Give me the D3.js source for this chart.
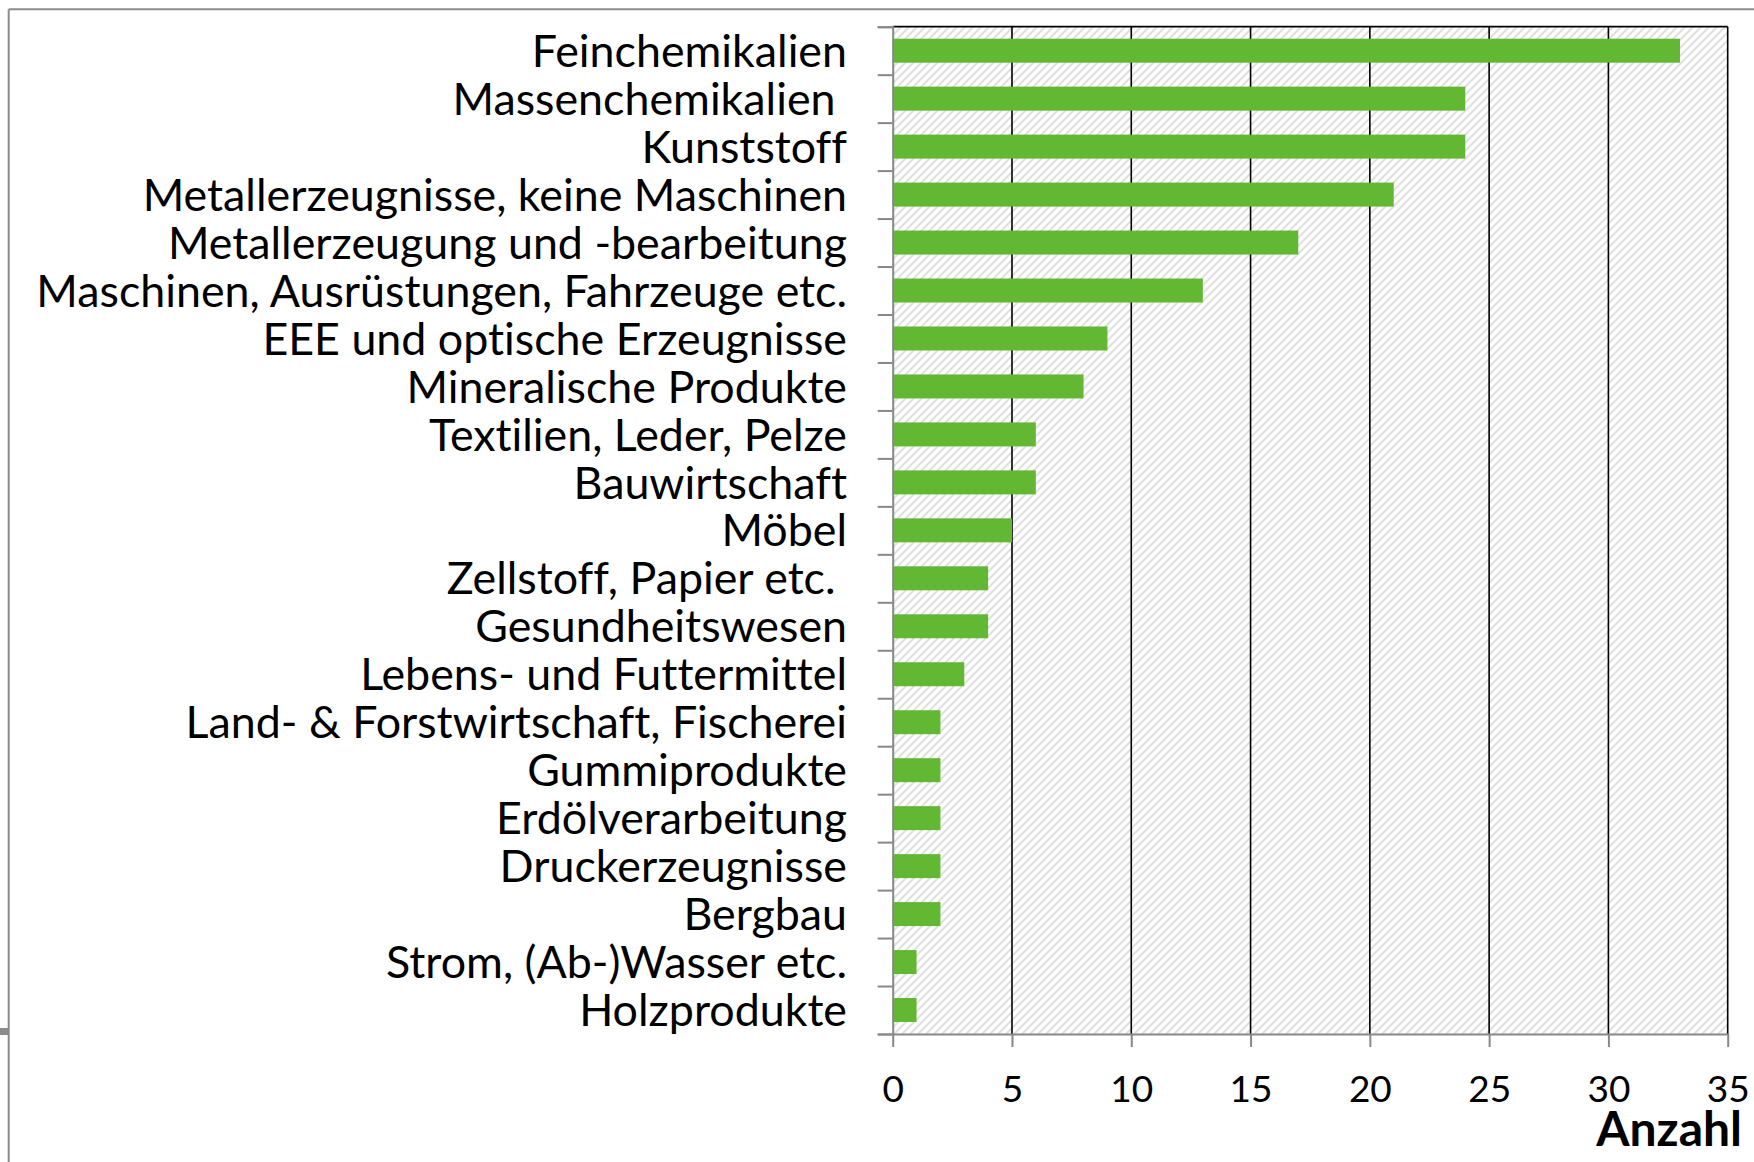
<!DOCTYPE html>
<html>
<head>
<meta charset="utf-8">
<script src="https://cdn.jsdelivr.net/npm/d3@7"></script>
<style>
  body { margin: 0; background: #fff; }
  text { font-family: Lato, "Open Sans", sans-serif; fill: #000;
         font-variant-ligatures: none; font-feature-settings: "liga" 0, "clig" 0; }
</style>
</head>
<body>
<script>
// values (number of entries per sector)
var categories = [
  "Feinchemikalien",
  "Massenchemikalien ",
  "Kunststoff",
  "Metallerzeugnisse, keine Maschinen",
  "Metallerzeugung und -bearbeitung",
  "Maschinen, Ausrüstungen, Fahrzeuge etc.",
  "EEE und optische Erzeugnisse",
  "Mineralische Produkte",
  "Textilien, Leder, Pelze",
  "Bauwirtschaft",
  "Möbel",
  "Zellstoff, Papier etc. ",
  "Gesundheitswesen",
  "Lebens- und Futtermittel",
  "Land- & Forstwirtschaft, Fischerei",
  "Gummiprodukte",
  "Erdölverarbeitung",
  "Druckerzeugnisse",
  "Bergbau",
  "Strom, (Ab-)Wasser etc.",
  "Holzprodukte"
];
var values = [33, 24, 24, 21, 17, 13, 9, 8, 6, 6, 5, 4, 4, 3, 2, 2, 2, 2, 2, 1, 1];
var xTicks = [0, 5, 10, 15, 20, 25, 30, 35];
var xTitle = "Anzahl";

var W = 1754, H = 1162;
// plot area (window.top is reserved, so use other names)
var pLeft = 892.7, pRight = 1727.7, pTop = 26.7, pBottom = 1034;

var svg = d3.select("body").append("svg")
  .attr("width", W)
  .attr("height", H);

// hatch fill of the plot area
var defs = svg.append("defs");
var pat = defs.append("pattern")
  .attr("id", "hatch")
  .attr("patternUnits", "userSpaceOnUse")
  .attr("width", 8)
  .attr("height", 8);
pat.append("rect").attr("width", 8).attr("height", 8).attr("fill", "#fff");
pat.append("path")
  .attr("d", "M-2,2 L2,-2 M0,8 L8,0 M6,10 L10,6")
  .attr("stroke", "#e1e1e1")
  .attr("stroke-width", 2.2);

var x = d3.scaleLinear().domain([0, 35]).range([pLeft, pRight]);
var y = d3.scaleBand().domain(categories).range([pTop, pBottom])
  .paddingInner(0.5).paddingOuter(0.25);

// outer frame (only top and left visible)
svg.append("line").attr("x1", 8.7).attr("x2", W).attr("y1", 9.3).attr("y2", 9.3)
  .attr("stroke", "#8c8c8c").attr("stroke-width", 2);
svg.append("line").attr("x1", 8.7).attr("x2", 8.7).attr("y1", 9.3).attr("y2", H)
  .attr("stroke", "#8c8c8c").attr("stroke-width", 2);
svg.append("rect").attr("x", 0).attr("y", 1028).attr("width", 8).attr("height", 7)
  .attr("fill", "#8c8c8c");

svg.append("rect")
  .attr("x", pLeft).attr("y", pTop)
  .attr("width", pRight - pLeft).attr("height", pBottom - pTop)
  .attr("fill", "url(#hatch)");

// vertical gridlines
svg.selectAll(".grid")
  .data(xTicks.slice(1))
  .enter().append("line")
  .attr("class", "grid")
  .attr("x1", function(d){ return x(d); })
  .attr("x2", function(d){ return x(d); })
  .attr("y1", pTop).attr("y2", pBottom)
  .attr("stroke", "#000").attr("stroke-width", 1.6);

// top border
svg.append("line").attr("x1", pLeft).attr("x2", pRight).attr("y1", pTop).attr("y2", pTop)
  .attr("stroke", "#000").attr("stroke-width", 1.8);

// bars
svg.selectAll(".bar")
  .data(values)
  .enter().append("rect")
  .attr("class", "bar")
  .attr("x", x(0))
  .attr("y", function(d, i){ return y(categories[i]); })
  .attr("width", function(d){ return x(d) - x(0); })
  .attr("height", y.bandwidth())
  .attr("fill", "#62b733");

// y axis: ticks on category boundaries
var yIdx = d3.scaleLinear().domain([0, categories.length]).range([pTop, pBottom]);
var yAxis = svg.append("g")
  .attr("transform", "translate(" + pLeft + ",0)")
  .call(d3.axisLeft(yIdx).ticks(categories.length).tickSize(15).tickFormat(""));
yAxis.select(".domain").attr("stroke", "#888").attr("stroke-width", 2);
yAxis.selectAll(".tick line").attr("stroke", "#888").attr("stroke-width", 2);

// x axis
var xAxis = svg.append("g")
  .attr("transform", "translate(0," + pBottom + ")")
  .call(d3.axisBottom(x).tickValues(xTicks).tickSize(13).tickSizeOuter(0));
xAxis.select(".domain").attr("stroke", "#888").attr("stroke-width", 2);
xAxis.selectAll(".tick line").attr("stroke", "#888").attr("stroke-width", 2);
xAxis.selectAll(".tick text")
  .attr("y", 67.7).attr("dy", 0)
  .style("font-family", "Lato, sans-serif")
  .style("font-size", "37px")
  .attr("fill", "#000");

// category labels
var labels = svg.selectAll(".lab")
  .data(categories)
  .enter().append("text")
  .attr("class", "lab")
  .attr("x", 847)
  .attr("y", function(d){ return y(d) + y.bandwidth() / 2; })
  .attr("dy", "0.36em")
  .attr("text-anchor", "end")
  .style("white-space", "pre")
  .style("font-size", "44px")
  .text(function(d){ return d; });

// fit the label size so the longest label spans like the original
var longest = labels.filter(function(d){ return d.indexOf("Maschinen,") === 0; }).node();
var w = longest.getComputedTextLength();
var fs = 44 * 811 / w;
labels.style("font-size", fs + "px");

// axis title
svg.append("text")
  .attr("x", 1742)
  .attr("y", 1146)
  .attr("text-anchor", "end")
  .style("font-weight", "bold")
  .style("font-size", "48px")
  .text(xTitle);
</script>
</body>
</html>
